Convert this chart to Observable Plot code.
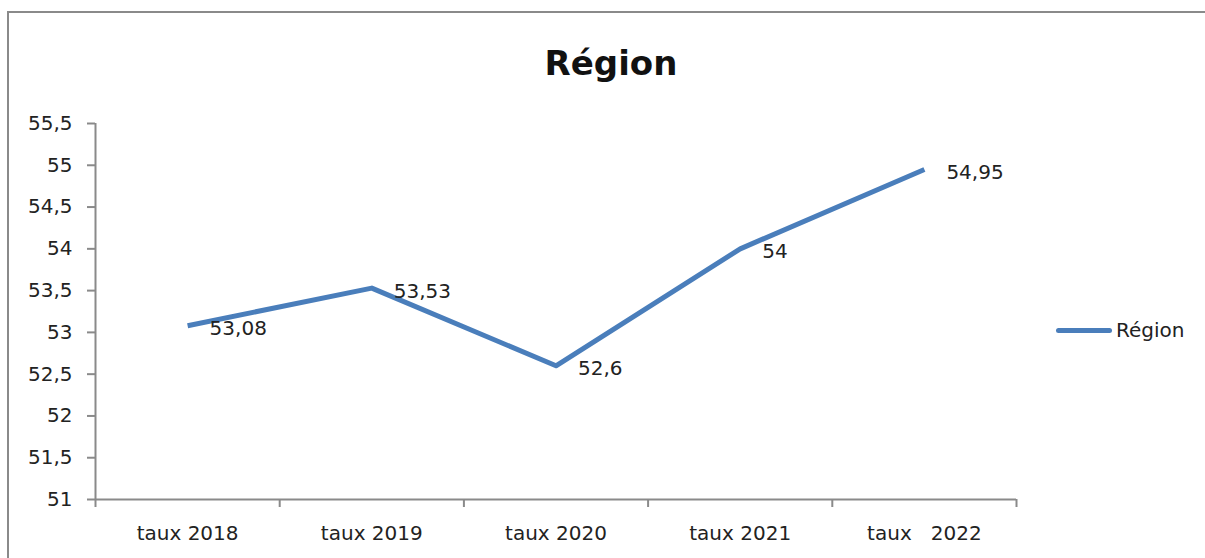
<!DOCTYPE html>
<html>
<head>
<meta charset="utf-8">
<script src="https://cdn.jsdelivr.net/npm/d3@7"></script>
<script src="https://cdn.jsdelivr.net/npm/@observablehq/plot@0.6"></script>
<style>
  html, body { margin: 0; padding: 0; background: #fff; }
  #wrap { position: relative; width: 1205px; height: 558px; overflow: hidden; font-family: "DejaVu Sans", sans-serif; color: #222; }
  #border { position: absolute; left: 7px; top: 11px; width: 1400px; height: 800px; border-top: 2px solid #8a8a8a; border-left: 2px solid #8a8a8a; }
  #title { position: absolute; left: 0; width: 1222px; top: 46px; text-align: center; font-weight: bold; font-size: 34px; line-height: 34px; color: #111; }
  #legend { position: absolute; left: 1056px; top: 318px; height: 24px; display: flex; align-items: center; font-size: 20px; }
  #legend .sw { display: inline-block; width: 56px; height: 5px; border-radius: 3px; background: #4A7EBB; margin-right: 4px; }
  #chart { position: absolute; left: 0; top: 0; }
  svg text { white-space: pre; }
</style>
</head>
<body>
<div id="wrap">
  <div id="border"></div>
  <div id="chart"></div>
  <div id="title"></div>
  <div id="legend"><span class="sw"></span><span id="legtext"></span></div>
</div>
<script>
const title = "Région";
const seriesName = "Région";
const categories = ["taux 2018", "taux 2019", "taux 2020", "taux 2021", "taux   2022"];
const values = [53.08, 53.53, 52.6, 54, 54.95];
const yTicks = [51, 51.5, 52, 52.5, 53, 53.5, 54, 54.5, 55, 55.5];

const lineColor = "#4A7EBB";
const axisColor = "#8a8a8a";
const fmt = d => String(d).replace(".", ",");

const data = categories.map((c, i) => ({cat: c, pos: i + 0.5, value: values[i]}));
const boundaries = d3.range(0, categories.length + 1);

document.getElementById("title").textContent = title;
document.getElementById("legtext").textContent = seriesName;

const chart = Plot.plot({
  width: 1205,
  height: 558,
  marginLeft: 95,
  marginRight: 189,
  marginTop: 123,
  marginBottom: 59,
  style: {fontFamily: "DejaVu Sans, sans-serif", fontSize: "20px", color: "#222", background: "transparent", overflow: "visible"},
  x: {type: "linear", domain: [0, categories.length]},
  y: {domain: [51, 55.5]},
  marks: [
    Plot.ruleX([0], {stroke: axisColor, strokeWidth: 2}),
    Plot.ruleY([51], {stroke: axisColor, strokeWidth: 2}),
    Plot.axisY({ticks: yTicks, tickFormat: fmt, tickSize: 8, tickPadding: 15, stroke: axisColor, strokeWidth: 2, fill: "#222", label: null, fontSize: 20}),
    Plot.axisX({ticks: boundaries, tickFormat: () => "", tickSize: 8, stroke: axisColor, strokeWidth: 2, label: null}),
    Plot.axisX({ticks: data.map(d => d.pos), tickFormat: (d) => categories[Math.floor(d)], tickSize: 0, tickPadding: 26, fill: "#222", label: null, fontSize: 20}),
    Plot.line(data, {x: "pos", y: "value", stroke: lineColor, strokeWidth: 5, strokeLinejoin: "round", strokeLinecap: "butt"}),
    Plot.text(data, {x: "pos", y: "value", text: d => fmt(d.value), textAnchor: "start", dx: 22, dy: 3, fill: "#222", fontSize: 20})
  ]
});
document.getElementById("chart").appendChild(chart);
</script>
</body>
</html>
